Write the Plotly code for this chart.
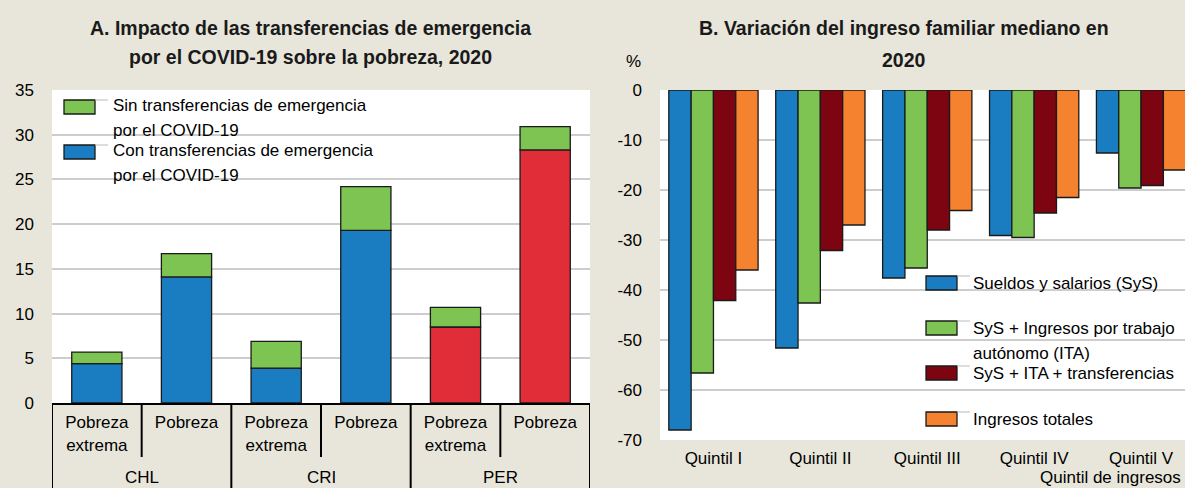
import plotly.graph_objects as go

# ---------------- Panel A: poverty with / without emergency transfers ----------------
paises = ["CHL", "CHL", "CRI", "CRI", "PER", "PER"]
medidas = ["Pobreza<br>extrema", "Pobreza", "Pobreza<br>extrema", "Pobreza",
           "Pobreza<br>extrema", "Pobreza"]
pobreza_con = [4.4, 14.1, 3.9, 19.3, 8.5, 28.3]    # con transferencias
pobreza_sin = [5.7, 16.7, 6.9, 24.2, 10.7, 30.9]   # sin transferencias
ticks_a = [0, 5, 10, 15, 20, 25, 30, 35]

# ---------------- Panel B: median household income change ----------------
quintiles = ["Quintil I", "Quintil II", "Quintil III", "Quintil IV", "Quintil V"]
sueldos_salarios = [-68.0, -51.6, -37.6, -29.1, -12.6]
sys_ita = [-56.6, -42.6, -35.6, -29.5, -19.6]
sys_ita_transf = [-42.1, -32.1, -28.0, -24.6, -19.1]
ingresos_totales = [-36.0, -27.0, -24.1, -21.5, -16.0]
ticks_b = [0, -10, -20, -30, -40, -50, -60, -70]
ticks_b_text = ["0", "-10", "-20", "-30", "-40", "-50", "-60", "-70"]

# ---------------- styling ----------------
W, H = 1185, 488
FONT = "Arial, Liberation Sans, sans-serif"
BG = "#E8E6DA"
GRID = "#CDCDCD"
AZUL = "#1B7DC1"
VERDE = "#7DC452"
ROJO = "#E02D37"
GRANATE = "#7D0512"
NARANJA = "#F5822F"
OUTLINE = dict(color="#1A1A1A", width=1.3)

colores_con = [AZUL, AZUL, AZUL, AZUL, ROJO, ROJO]


def fx(px):
    return px / W


def fy(px):
    return 1 - px / H


# category slots on panel A and the country groups they belong to
pos_a = list(range(len(medidas)))
grupos = []
for i, p in enumerate(paises):
    if not grupos or grupos[-1][0] != p:
        grupos.append([p, i, i])
    else:
        grupos[-1][2] = i
limites_grupo = [g[1] - 0.5 for g in grupos] + [grupos[-1][2] + 0.5]
limites_internos = [g[1] + 0.5 for g in grupos if g[2] > g[1]]

fig = go.Figure()

# Panel A bars: base (with transfers) plus the extra poverty without transfers
fig.add_trace(go.Bar(
    x=pos_a, y=pobreza_con, marker=dict(color=colores_con, line=OUTLINE),
    width=0.56, offset=-0.28, offsetgroup="a", xaxis="x", yaxis="y",
    name="Con transferencias de emergencia por el COVID-19", showlegend=False))
fig.add_trace(go.Bar(
    x=pos_a, y=[s - c for s, c in zip(pobreza_sin, pobreza_con)],
    base=pobreza_con, marker=dict(color=VERDE, line=OUTLINE),
    width=0.56, offset=-0.28, offsetgroup="a", xaxis="x", yaxis="y",
    name="Sin transferencias de emergencia por el COVID-19", showlegend=False))

# Panel B grouped bars
series_b = [
    ("Sueldos y salarios (SyS)", sueldos_salarios, AZUL),
    ("SyS + Ingresos por trabajo autónomo (ITA)", sys_ita, VERDE),
    ("SyS + ITA + transferencias", sys_ita_transf, GRANATE),
    ("Ingresos totales", ingresos_totales, NARANJA),
]
for i, (nombre, valores, color) in enumerate(series_b):
    fig.add_trace(go.Bar(
        x=quintiles, y=valores, name=nombre, offsetgroup=str(i),
        marker=dict(color=color, line=OUTLINE), xaxis="x2", yaxis="y2",
        showlegend=False))

tickfont = dict(family=FONT, size=17, color="#000000")
rango_a = [-0.5, len(medidas) - 0.5]
rango_b = [-0.5, 4.411]

fig.update_layout(
    width=W, height=H,
    margin=dict(l=0, r=0, t=0, b=0, autoexpand=False),
    paper_bgcolor=BG, plot_bgcolor="#FFFFFF",
    barmode="group", bargap=0.165, bargroupgap=0,
    font=dict(family=FONT, size=17, color="#000000"),
    # panel A: inner category labels
    xaxis=dict(
        domain=[fx(52), fx(590)], anchor="y", type="linear", range=rango_a,
        tickvals=pos_a, ticktext=medidas, showline=True, linecolor="#000000",
        linewidth=2, ticks="", showgrid=False, zeroline=False,
        tickfont=tickfont, ticklabelstandoff=3),
    yaxis=dict(
        domain=[fy(403), fy(90)], anchor="x", range=[0, 35], tickvals=ticks_a,
        showgrid=True, gridcolor=GRID, gridwidth=2, zeroline=False,
        showline=False, ticks="", tickfont=tickfont, ticklabelstandoff=17),
    xaxis2=dict(
        domain=[fx(660), 1.0], anchor="y2", type="category", range=rango_b,
        showline=False, ticks="", showgrid=False, zeroline=False,
        tickfont=tickfont, ticklabelstandoff=6),
    # panel B: zero line on top with ticks at the quintile boundaries
    xaxis3=dict(
        overlaying="x2", anchor="y2", side="top", type="linear", range=rango_b,
        tickvals=[q - 0.5 for q in range(len(quintiles) + 1)],
        ticks="outside", ticklen=7, tickwidth=2, tickcolor="#000000",
        showticklabels=False, showgrid=False, zeroline=False,
        showline=True, linecolor="#000000", linewidth=2),
    yaxis2=dict(
        domain=[fy(440), fy(90)], anchor="x2", range=[-70, 0],
        tickvals=ticks_b, ticktext=ticks_b_text, showgrid=True,
        gridcolor=GRID, gridwidth=2, zeroline=False, showline=False,
        ticks="", tickfont=tickfont, ticklabelstandoff=17),
)

annotations = []
shapes = []

# panel A category dividers: short ones inside each country, long ones between
for xb in limites_internos:
    shapes.append(dict(type="line", xref="x", yref="paper", x0=xb, x1=xb,
                       y0=fy(403), y1=fy(457),
                       line=dict(color="#000000", width=2)))
for xb in limites_grupo:
    shapes.append(dict(type="line", xref="x", yref="paper", x0=xb, x1=xb,
                       y0=fy(403), y1=fy(490),
                       line=dict(color="#000000", width=2)))

# country names centred under their groups
for pais, i0, i1 in grupos:
    annotations.append(dict(text=pais, x=(i0 + i1) / 2, y=fy(477), xref="x",
                            yref="paper", xanchor="center", yanchor="middle",
                            showarrow=False, font=tickfont))

# Titles (one annotation per line)
titulo_a = ["A. Impacto de las transferencias de emergencia",
            "por el COVID-19 sobre la pobreza, 2020"]
titulo_b = ["B. Variación del ingreso familiar mediano en", "2020"]
for linea, ypx in zip(titulo_a, [28, 57]):
    annotations.append(dict(text=f"<b>{linea}</b>", x=fx(310), y=fy(ypx),
                            xref="paper", yref="paper", xanchor="center",
                            yanchor="middle", showarrow=False,
                            font=dict(family=FONT, size=19.5, color="#1A1A1A")))
for linea, ypx in zip(titulo_b, [28, 60]):
    annotations.append(dict(text=f"<b>{linea}</b>", x=fx(904), y=fy(ypx),
                            xref="paper", yref="paper", xanchor="center",
                            yanchor="middle", showarrow=False,
                            font=dict(family=FONT, size=19.5, color="#1A1A1A")))

annotations.append(dict(text="%", x=fx(633), y=fy(62), xref="paper", yref="paper",
                        xanchor="center", yanchor="middle", showarrow=False,
                        font=dict(family=FONT, size=17)))
annotations.append(dict(text="Quintil de ingresos", x=fx(1183), y=fy(477),
                        xref="paper", yref="paper", xanchor="right",
                        yanchor="middle", showarrow=False,
                        font=dict(family=FONT, size=17)))


def legend_item(x0, y0, color, lines, line_ys, text_x):
    shapes.append(dict(type="rect", xref="paper", yref="paper",
                       x0=fx(x0), x1=fx(x0 + 31), y0=fy(y0), y1=fy(y0 + 14),
                       fillcolor=color, line=dict(color="#1A1A1A", width=1.3)))
    shapes.append(dict(type="line", xref="paper", yref="paper",
                       x0=fx(x0 + 31), x1=fx(x0 + 44), y0=fy(y0), y1=fy(y0),
                       line=dict(color="#BBBBBB", width=1)))
    for linea, ypx in zip(lines, line_ys):
        annotations.append(dict(text=linea, x=fx(text_x), y=fy(ypx),
                                xref="paper", yref="paper", xanchor="left",
                                yanchor="middle", showarrow=False,
                                font=dict(family=FONT, size=17)))


# Panel A legend
legend_item(64, 100, VERDE, ["Sin transferencias de emergencia", "por el COVID-19"],
            [106, 130], 111)
legend_item(64, 145, AZUL, ["Con transferencias de emergencia", "por el COVID-19"],
            [151, 176], 111)

# Panel B legend
legend_item(926, 276, AZUL, ["Sueldos y salarios (SyS)"], [283], 971)
legend_item(926, 321, VERDE, ["SyS + Ingresos por trabajo", "autónomo (ITA)"],
            [328, 353], 971)
legend_item(926, 366, GRANATE, ["SyS + ITA + transferencias"], [373], 971)
legend_item(926, 412, NARANJA, ["Ingresos totales"], [419], 971)

fig.update_layout(annotations=annotations, shapes=shapes)

fig.write_html("out.html")
